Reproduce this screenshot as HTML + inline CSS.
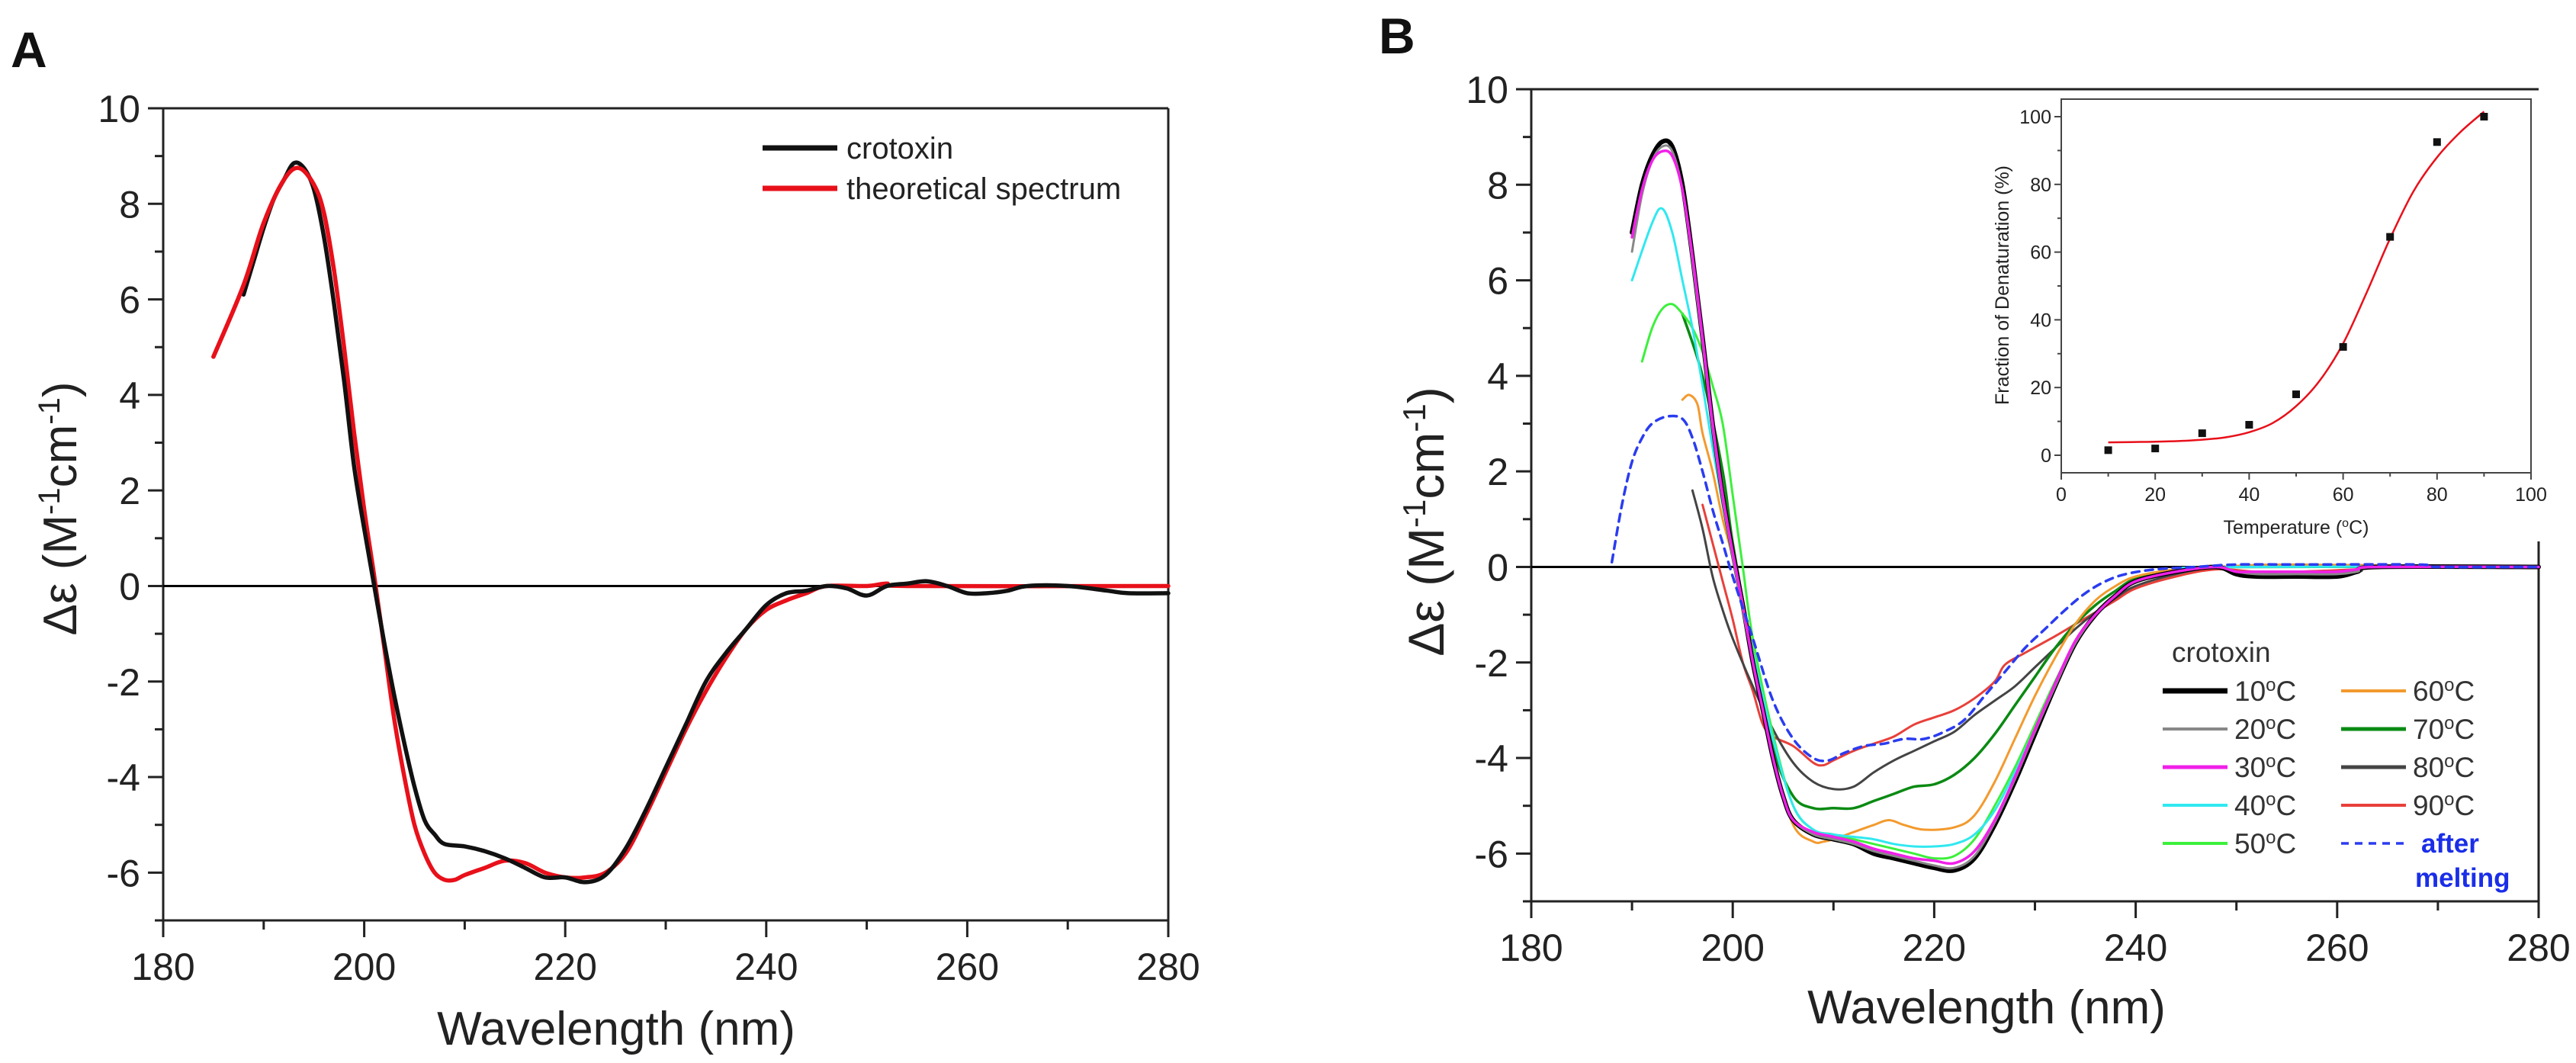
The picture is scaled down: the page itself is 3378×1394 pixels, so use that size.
<!DOCTYPE html>
<html><head><meta charset="utf-8"><style>
html,body{margin:0;padding:0;background:#fff;}
svg{display:block;font-family:"Liberation Sans",sans-serif;}
</style></head><body>
<svg id="fig" width="3378" height="1394" viewBox="0 0 3378 1394"></svg>
<script>
// ---------- Panel A data ----------
const aCrotoxinX = [188,189,190,191,192,193,194,195,196,197,198,199,200,201,202,203,204,205,206,207,208,210,212,214,216,218,220,222,224,226,228,230,232,234,236,238,240,242,244,246,248,250,252,254,256,258,260,262,264,266,270,274,276,280];
const aCrotoxinY = [6.1,6.8,7.5,8.1,8.5,8.85,8.75,8.3,7.3,5.9,4.3,2.5,1.2,0,-1.2,-2.3,-3.3,-4.2,-4.9,-5.2,-5.4,-5.45,-5.55,-5.7,-5.9,-6.1,-6.1,-6.2,-6.05,-5.5,-4.7,-3.8,-2.9,-2.0,-1.4,-0.9,-0.4,-0.15,-0.1,0,-0.05,-0.2,0,0.05,0.1,0,-0.15,-0.15,-0.1,0,0,-0.1,-0.15,-0.15];
const aTheoX = [185,188,190,192,193.5,195,196,197,198,199,200,201,202,203,204,205,206,207,208,209,210,212,214,216,218,220,222,224,226,228,230,232,234,236,238,240,242,244,246,250,252,254,280];
const aTheoY = [4.8,6.3,7.6,8.5,8.75,8.4,7.8,6.6,5.0,3.2,1.6,0.2,-1.3,-2.8,-4.0,-5.0,-5.6,-6.0,-6.15,-6.15,-6.05,-5.9,-5.75,-5.8,-6.0,-6.1,-6.1,-6.0,-5.6,-4.8,-3.9,-3.0,-2.2,-1.5,-0.9,-0.5,-0.3,-0.15,0,0,0.05,0,0];
// ---------- Panel B data ----------
const b10X = [190,191,192,193,194,195,196,197,198,199,200,201,202,203,204,205,206,208,210,212,214,216,218,220,222,224,226,228,230,232,234,236,238,240,244,248,250,252,256,260,262,264,280];
const b10Y = [7.0,8.0,8.6,8.9,8.8,8.0,6.5,4.8,3.0,1.5,0.3,-0.8,-2.0,-3.0,-4.0,-4.8,-5.3,-5.6,-5.7,-5.8,-6.0,-6.1,-6.2,-6.3,-6.35,-6.1,-5.4,-4.5,-3.5,-2.5,-1.6,-1.0,-0.6,-0.3,-0.1,0,-0.15,-0.2,-0.2,-0.2,-0.1,0,0];
const b20Y = [6.6,7.8,8.5,8.8,8.7,7.9,6.4,4.7,2.9,1.4,0.2,-0.9,-2.0,-3.0,-4.0,-4.8,-5.3,-5.6,-5.7,-5.8,-5.95,-6.05,-6.15,-6.25,-6.3,-6.05,-5.35,-4.45,-3.45,-2.5,-1.6,-1.0,-0.6,-0.3,-0.1,0,-0.1,-0.15,-0.15,-0.15,-0.1,0,0];
const b30Y = [6.9,7.9,8.5,8.7,8.6,7.9,6.5,4.8,3.0,1.5,0.3,-0.8,-2.0,-3.0,-4.0,-4.8,-5.3,-5.55,-5.65,-5.75,-5.9,-6.0,-6.1,-6.15,-6.2,-5.95,-5.3,-4.4,-3.4,-2.45,-1.55,-1.0,-0.6,-0.3,-0.1,0,-0.1,-0.1,-0.1,-0.1,-0.05,0,0];
const b40X = [190,192,193,194,195,196,197,198,199,200,202,204,206,208,210,212,214,216,218,220,222,224,226,228,230,232,234,236,238,240,244,248,280];
const b40Y = [6.0,7.2,7.5,7.0,6.0,5.0,3.8,2.5,1.3,0.2,-1.8,-3.6,-5.0,-5.5,-5.6,-5.65,-5.7,-5.8,-5.85,-5.85,-5.8,-5.6,-5.1,-4.3,-3.4,-2.5,-1.6,-1.0,-0.6,-0.3,-0.1,0,0];
const b50X = [191,192,193,194,195,196,197,198,199,200,201,202,204,206,208,210,212,214,216,218,220,222,224,226,228,230,232,234,236,238,240,244,248,280];
const b50Y = [4.3,5.0,5.4,5.5,5.3,5.0,4.5,3.8,3.0,1.5,0,-1.5,-3.5,-5.0,-5.5,-5.6,-5.7,-5.8,-5.9,-6.0,-6.1,-6.05,-5.7,-5.0,-4.2,-3.3,-2.4,-1.6,-1.0,-0.6,-0.3,-0.1,0,0];
const b60X = [195,195.7,196.5,197,198,199,200,201,202,204,206,208,209,210,212,214,215.5,217,219,222,224,226,228,230,232,234,236,238,240,244,248,256,280];
const b60Y = [3.5,3.6,3.4,2.8,2.0,1.0,0.2,-0.8,-2.0,-4.0,-5.4,-5.75,-5.75,-5.7,-5.55,-5.4,-5.3,-5.4,-5.5,-5.45,-5.2,-4.5,-3.6,-2.7,-1.9,-1.2,-0.7,-0.4,-0.2,-0.05,0,0.05,0];
const b70X = [195,197,199,200,202,204,206,208,210,212,214,216,218,220,222,224,226,228,230,232,234,236,238,240,244,248,280];
const b70Y = [5.3,4.0,2.0,0.5,-1.8,-3.8,-4.8,-5.05,-5.05,-5.05,-4.9,-4.75,-4.6,-4.55,-4.35,-4.0,-3.5,-2.9,-2.3,-1.7,-1.2,-0.8,-0.5,-0.25,-0.1,0,0];
const b80X = [196,197,198,199,200,202,204,206,208,210,212,214,216,218,220,222,224,226,228,230,232,234,236,238,240,244,248,250,256,262,264,280];
const b80Y = [1.6,0.8,-0.2,-0.9,-1.5,-2.5,-3.4,-4.1,-4.5,-4.65,-4.6,-4.3,-4.05,-3.85,-3.65,-3.45,-3.1,-2.8,-2.5,-2.1,-1.7,-1.3,-0.95,-0.65,-0.4,-0.15,0,-0.1,-0.15,-0.1,0,0];
const b90X = [197,198,199,200,201,202,203,204,206,208,209,210,212,214,216,218,220,222,224,226,227,229,232,234,236,238,240,244,248,252,256,262,266,280];
const b90Y = [1.3,0.5,-0.3,-1.1,-2.0,-2.6,-3.3,-3.55,-3.75,-4.1,-4.15,-4.05,-3.85,-3.7,-3.55,-3.3,-3.15,-3.0,-2.75,-2.4,-2.05,-1.8,-1.45,-1.2,-0.95,-0.7,-0.45,-0.2,-0.05,-0.1,-0.1,-0.05,0,0];
const bAfterX = [188,189,190,191,192,193.5,195,196,197,198,199,200,202,204,206,208,209.5,211,213,215,217,219,221,223,225,227,229,231,233,235,237,239,242,246,250,256,268,270,280];
const bAfterY = [0.1,1.3,2.2,2.7,3.0,3.15,3.1,2.7,2.0,1.2,0.5,-0.2,-1.5,-2.8,-3.6,-4.0,-4.05,-3.9,-3.75,-3.7,-3.6,-3.6,-3.45,-3.2,-2.7,-2.2,-1.7,-1.3,-0.9,-0.55,-0.3,-0.15,-0.05,0,0.05,0.05,0.05,0,0];
// ---------- Inset data ----------
const insetTemps = [10,20,30,40,50,60,70,80,90];
const insetFraction = [1.5,2,6.5,9,18,32,64.5,92.5,100];
const insetFitT = [10,15,20,25,30,35,40,45,50,55,60,65,70,75,80,85,90];
const insetFitY = [3.8,3.9,4.0,4.2,4.6,5.3,6.8,9.5,14.5,22,33,48,64,78,88,95.5,101.5];
const mainXTicks = [180,200,220,240,260,280];
const mainYTicks = [-6,-4,-2,0,2,4,6,8,10];
const insetTicks = [0,20,40,60,80,100];

const NS='http://www.w3.org/2000/svg';
const svg=document.getElementById('fig');
function el(tag,attrs,parent,text){const e=document.createElementNS(NS,tag);for(const k in attrs)e.setAttribute(k,attrs[k]);if(text!==undefined)e.textContent=text;(parent||svg).appendChild(e);return e;}
function mkScale(d0,d1,r0,r1){return v=>r0+(v-d0)*(r1-r0)/(d1-d0);}
function smoothPath(P){
  if(P.length<2)return '';
  let d='M'+P[0][0].toFixed(1)+','+P[0][1].toFixed(1);
  for(let i=0;i<P.length-1;i++){
    const p0=P[i-1]||P[i],p1=P[i],p2=P[i+1],p3=P[i+2]||p2;
    const c1=[p1[0]+(p2[0]-p0[0])/6,p1[1]+(p2[1]-p0[1])/6];
    const c2=[p2[0]-(p3[0]-p1[0])/6,p2[1]-(p3[1]-p1[1])/6];
    d+=' C'+c1[0].toFixed(1)+','+c1[1].toFixed(1)+' '+c2[0].toFixed(1)+','+c2[1].toFixed(1)+' '+p2[0].toFixed(1)+','+p2[1].toFixed(1);
  }
  return d;
}

function drawMain(g,L,R,T,B,fullFrame){
  const sx=mkScale(180,280,L,R), sy=mkScale(10,-7,T,B);
  el('line',{x1:L,y1:T,x2:L,y2:B,stroke:'#222','stroke-width':3},g);
  el('line',{x1:L,y1:B,x2:R,y2:B,stroke:'#222','stroke-width':3},g);
  el('line',{x1:L,y1:T,x2:R,y2:T,stroke:'#222','stroke-width':3},g);
  if(fullFrame) el('line',{x1:R,y1:T,x2:R,y2:B,stroke:'#222','stroke-width':3},g);
  el('line',{x1:L,y1:sy(0),x2:R,y2:sy(0),stroke:'#000','stroke-width':3},g);
  for(let v=180;v<=280;v+=10){const x=sx(v);const maj=v%20===0;el('line',{x1:x,y1:B,x2:x,y2:B+(maj?22:12),stroke:'#222','stroke-width':3},g);}
  for(let v=-7;v<=10;v+=1){const y=sy(v);const maj=v%2===0;el('line',{x1:L,y1:y,x2:L-(maj?20:11),y2:y,stroke:'#222','stroke-width':3},g);}
  mainXTicks.forEach(v=>{const t=el('text',{x:sx(v),y:B+78,'text-anchor':'middle','font-size':50,fill:'#222'},g,v);
    
    });
  mainYTicks.forEach(v=>{const t=el('text',{x:L-30,y:sy(v)+18,'text-anchor':'end','font-size':50,fill:'#222'},g,v);
    
    });
  return {sx,sy};
}
function line(g,xs,ys,sx,sy,color,w,name,dash){
  const P=xs.map((x,i)=>[sx(x),sy(ys[i])]);
  const p=el('path',{d:smoothPath(P),fill:'none',stroke:color,'stroke-width':w,'stroke-linejoin':'round','stroke-linecap':'round'},g);
  if(dash)p.setAttribute('stroke-dasharray',dash);
  
  
  return p;
}

// ===== Panel A =====
const gA=el('g',{},svg);


const lblA=el('text',{x:14,y:88,'font-size':66,'font-weight':'bold',fill:'#111'},gA,'A');


const A=drawMain(gA,214,1532,142,1207,true);
line(gA,aTheoX,aTheoY,A.sx,A.sy,'#e8101a',5.5,'theoretical-spectrum-line');
line(gA,aCrotoxinX,aCrotoxinY,A.sx,A.sy,'#111',5.5,'crotoxin-line');
line(gA,aTheoX.slice(0,8),aTheoY.slice(0,8),A.sx,A.sy,'#e8101a',5.5,'theoretical-spectrum-peak');
const xtA=el('text',{x:808,y:1370,'text-anchor':'middle','font-size':62,fill:'#222'},gA,'Wavelength (nm)');


const ytA=el('text',{x:0,y:0,'text-anchor':'middle','font-size':62,fill:'#222',transform:'translate(100,667) rotate(-90)'},gA);


ytA.innerHTML='Δε (M<tspan dy="-22" font-size="40">-1</tspan><tspan dy="22">cm</tspan><tspan dy="-22" font-size="40">-1</tspan><tspan dy="22">)</tspan>';
const legA=el('g',{},gA);


el('line',{x1:1000,y1:194,x2:1098,y2:194,stroke:'#111','stroke-width':7},legA);
el('text',{x:1110,y:208,'font-size':40,fill:'#222'},legA,'crotoxin');
el('line',{x1:1000,y1:247,x2:1098,y2:247,stroke:'#e8101a','stroke-width':7},legA);
el('text',{x:1110,y:261,'font-size':40,fill:'#222'},legA,'theoretical spectrum');

// ===== Panel B =====
const gB=el('g',{},svg);


const lblB=el('text',{x:1808,y:70,'font-size':66,'font-weight':'bold',fill:'#111'},gB,'B');


const B=drawMain(gB,2008,3329,117,1182,false);
el('line',{x1:3329,y1:710,x2:3329,y2:1182,stroke:'#222','stroke-width':3},gB);
const series=[
 [b90X,b90Y,'#e8403a',3,'series-90c'],
 [b80X,b80Y,'#444',3,'series-80c'],
 [b70X,b70Y,'#0a8a12',3.5,'series-70c'],
 [b60X,b60Y,'#f39a2e',3,'series-60c'],
 [b50X,b50Y,'#3cf03c',3,'series-50c'],
 [b40X,b40Y,'#30e8f0',3,'series-40c'],
 [b10X,b10Y,'#000',6,'series-10c'],
 [b10X,b20Y,'#888',3,'series-20c'],
 [b10X,b30Y,'#f020e8',3.5,'series-30c'],
];
series.forEach(s=>line(gB,s[0],s[1],B.sx,B.sy,s[2],s[3],s[4]));
line(gB,bAfterX,bAfterY,B.sx,B.sy,'#2a3cf0',3.5,'series-after-melting','10,8');
const xtB=el('text',{x:2605,y:1342,'text-anchor':'middle','font-size':62,fill:'#222'},gB,'Wavelength (nm)');


const ytB=el('text',{x:0,y:0,'text-anchor':'middle','font-size':66,fill:'#222',transform:'translate(1893,684) rotate(-90)'},gB);


ytB.innerHTML='Δε (M<tspan dy="-24" font-size="42">-1</tspan><tspan dy="24">cm</tspan><tspan dy="-24" font-size="42">-1</tspan><tspan dy="24">)</tspan>';
const legB=el('g',{},gB);


el('text',{x:2848,y:868,'font-size':37,fill:'#333'},legB,'crotoxin');
const legEntries=[['10','#000',7,0,0],['20','#888',4,0,1],['30','#f020e8',5,0,2],['40','#30e8f0',4,0,3],['50','#3cf03c',4,0,4],
 ['60','#f39a2e',4,1,0],['70','#0a8a12',5,1,1],['80','#444',5,1,2],['90','#e8403a',4,1,3]];
legEntries.forEach(e=>{
  const g=el('g',{},legB);
  
  
  const x0=e[3]?3070:2836, y=906+e[4]*50;
  el('line',{x1:x0,y1:y,x2:x0+85,y2:y,stroke:e[1],'stroke-width':e[2]},g);
  const t=el('text',{x:x0+94,y:y+13,'font-size':37,fill:'#333'},g);
  t.innerHTML=e[0]+'<tspan dy="-13" font-size="24">o</tspan><tspan dy="13">C</tspan>';
});
const gAfter=el('g',{},legB);


el('line',{x1:3070,y1:1106,x2:3155,y2:1106,stroke:'#2a3cf0','stroke-width':3.5,'stroke-dasharray':'10,8'},gAfter);
el('text',{x:3175,y:1118,'font-size':35,'font-weight':'bold',fill:'#1a2ee8'},gAfter,'after');
el('text',{x:3167,y:1163,'font-size':35,'font-weight':'bold',fill:'#1a2ee8'},gAfter,'melting');

// ===== Inset =====
const gI=el('g',{},gB);


const IL=2703,IR=3319,IT=130,IB=620;
const ix=mkScale(0,100,IL,IR), iy=mkScale(0,100,597,153);
el('rect',{x:IL,y:IT,width:IR-IL,height:IB-IT,fill:'#fff',stroke:'#444','stroke-width':2},gI);
for(let v=0;v<=100;v+=10){const x=ix(v);el('line',{x1:x,y1:IB,x2:x,y2:IB+(v%20===0?9:5),stroke:'#444','stroke-width':2},gI);}
for(let v=0;v<=100;v+=10){const y=iy(v);el('line',{x1:IL,y1:y,x2:IL-(v%20===0?9:5),y2:y,stroke:'#444','stroke-width':2},gI);}
insetTicks.forEach(v=>{
  const t=el('text',{x:ix(v),y:657,'text-anchor':'middle','font-size':25,fill:'#222'},gI,v);
  
  
  const u=el('text',{x:2690,y:iy(v)+9,'text-anchor':'end','font-size':25,fill:'#222'},gI,v);
  
  
});
const fit=el('path',{d:smoothPath(insetFitT.map((t,i)=>[ix(t),iy(insetFitY[i])])),fill:'none',stroke:'#e8101a','stroke-width':2.5,'stroke-linejoin':'round'},gI);


insetTemps.forEach((t,i)=>{
  const r=el('rect',{x:ix(t)-5,y:iy(insetFraction[i])-5,width:10,height:10,fill:'#111'},gI);
  
  
});
const ixt=el('text',{x:3011,y:700,'text-anchor':'middle','font-size':25,fill:'#222'},gI);


ixt.innerHTML='Temperature (<tspan dy="-9" font-size="16">o</tspan><tspan dy="9">C)</tspan>';
const iyt=el('text',{x:0,y:0,'text-anchor':'middle','font-size':25,fill:'#222',transform:'translate(2634,374) rotate(-90)'},gI,'Fraction of Denaturation (%)');


</script>
</body></html>
